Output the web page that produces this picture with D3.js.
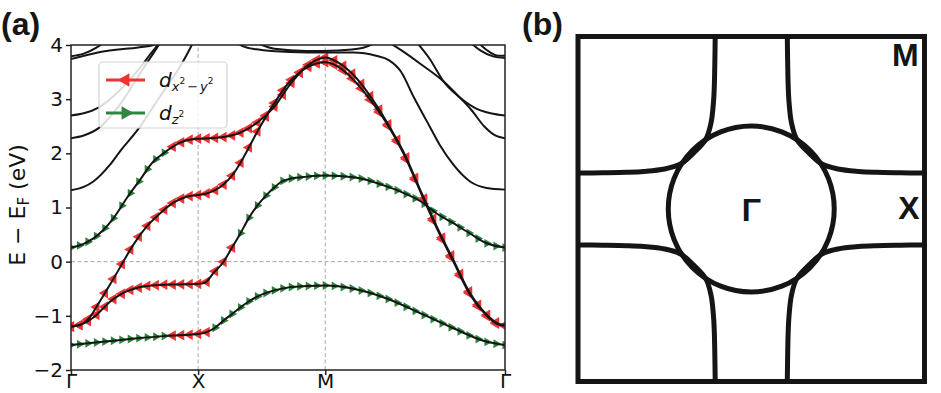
<!DOCTYPE html>
<html>
<head>
<meta charset="utf-8">
<script src="https://cdn.jsdelivr.net/npm/d3@7"></script>
<style>
  body { margin: 0; background: #fff; }
  svg { display: block; }
  .tick text { font-family: "DejaVu Sans", sans-serif; font-size: 20px; fill: #111; }
</style>
</head>
<body>
<div class="chart"></div>
<script>
// k-path: Γ=0, X=1, M=2, Γ=2+√2
var kTicks = [0, 1, 2, 2 + Math.SQRT2];
var kLabels = ["Γ", "X", "M", "Γ"];
var yTicks = [-2, -1, 0, 1, 2, 3, 4];

// projected bands [k, E]
var band1 = [[0,-1.54],[0.25,-1.48],[0.5,-1.42],[0.75,-1.37],[1,-1.335],[1.067,-1.30],[1.133,-1.22],[1.198,-1.09],[1.264,-0.97],[1.33,-0.85],[1.395,-0.74],[1.461,-0.65],[1.592,-0.535],[1.723,-0.47],[1.854,-0.45],[2,-0.44],[2.221,-0.50],[2.484,-0.68],[2.746,-0.95],[3.008,-1.23],[3.271,-1.48],[3.414,-1.54]];
var band2 = [[0,-1.2],[0.1,-1.14],[0.176,-1.03],[0.254,-0.86],[0.307,-0.74],[0.372,-0.63],[0.438,-0.55],[0.569,-0.46],[0.70,-0.43],[0.832,-0.42],[1,-0.41],[1.054,-0.39],[1.12,-0.21],[1.198,-0.01],[1.264,0.25],[1.33,0.51],[1.395,0.79],[1.461,1.02],[1.526,1.20],[1.592,1.355],[1.658,1.48],[1.723,1.53],[1.854,1.57],[2,1.59],[2.221,1.56],[2.484,1.39],[2.615,1.27],[2.746,1.12],[2.877,0.89],[3.008,0.71],[3.139,0.52],[3.271,0.34],[3.414,0.26]];
var band3 = [[0,-1.2],[0.08,-1.16],[0.15,-1.02],[0.22,-0.76],[0.30,-0.45],[0.37,-0.17],[0.411,0.0],[0.49,0.31],[0.596,0.65],[0.70,0.89],[0.805,1.09],[0.91,1.2],[1,1.23],[1.067,1.26],[1.133,1.32],[1.198,1.42],[1.277,1.62],[1.356,1.92],[1.461,2.38],[1.592,2.90],[1.723,3.33],[1.854,3.58],[2,3.68],[2.1,3.6],[2.221,3.36],[2.35,3.0],[2.484,2.55],[2.615,2.0],[2.76,1.23],[2.877,0.62],[3.008,0.0],[3.139,-0.61],[3.271,-1.0],[3.349,-1.15],[3.414,-1.19]];
var band4 = [[0,0.26],[0.09,0.32],[0.176,0.43],[0.254,0.585],[0.333,0.80],[0.438,1.17],[0.543,1.51],[0.648,1.85],[0.70,1.95],[0.805,2.13],[0.91,2.24],[1,2.27],[1.1,2.28],[1.198,2.30],[1.33,2.38],[1.461,2.56],[1.592,2.84],[1.723,3.27],[1.854,3.61],[1.96,3.75],[2,3.77],[2.1,3.68],[2.221,3.45],[2.35,3.07],[2.484,2.58],[2.615,2.03],[2.76,1.26],[2.877,0.65],[3.008,0.03],[3.139,-0.58],[3.271,-0.98],[3.349,-1.13],[3.414,-1.17]];

// which orbital the markers show along each projected band: [kFrom, kTo, orbital]
var orb1 = [[0,0.78,"z2"],[0.78,1.12,"x2"],[1.12,3.5,"z2"]];
var orb2 = [[0,1.3,"x2"],[1.3,3.5,"z2"]];
var orb3 = [[0,3.5,"x2"]];
var orb4 = [[0,0.75,"z2"],[0.75,3.5,"x2"]];

// bands without weight (black only)
var bandC1 = [[0,1.32],[0.1,1.38],[0.176,1.48],[0.307,1.79],[0.39,2.05],[0.53,2.45],[0.7,3.05],[0.88,3.69],[0.95,4.0],[0.98,4.15]];
var bandC2 = [[0,2.28],[0.1,2.33],[0.22,2.47],[0.4,2.95],[0.55,3.5],[0.62,3.75],[0.69,4.0],[0.72,4.12]];
var bandC3 = [[0,2.70],[0.1,2.74],[0.22,2.85],[0.4,3.2],[0.55,3.6],[0.62,3.82],[0.68,4.0],[0.71,4.12]];
var bandC4 = [[0,3.79],[0.1,3.84],[0.2,3.95],[0.26,4.05]];
var bandC5 = [[0,3.74],[0.23,3.87],[0.54,3.96],[0.65,4.0],[0.7,4.05]];
var bandD1 = [[1.3,4.05],[1.35,3.98],[1.461,3.92],[1.723,3.87],[2,3.86],[2.221,3.86],[2.40,3.8],[2.50,3.72],[2.595,3.51],[2.70,3.02],[2.80,2.59],[2.90,2.16],[3.008,1.79],[3.139,1.48],[3.27,1.36],[3.414,1.33]];
var bandD2 = [[1.45,4.05],[1.6,3.93],[1.85,3.89],[2.1,3.9],[2.3,3.95],[2.4,4.05]];
var bandE1 = [[2.5,4.05],[2.6,3.9],[2.75,3.65],[2.93,3.33],[3.05,3.05],[3.15,2.8],[3.25,2.5],[3.33,2.34],[3.414,2.28]];
var bandE2 = [[2.72,4.05],[2.82,3.75],[2.93,3.33],[3.05,3.05],[3.17,2.85],[3.3,2.74],[3.414,2.70]];
var bandE3 = [[3.14,4.05],[3.22,3.9],[3.32,3.79],[3.414,3.76]];
var bandE4 = [[3.2,4.05],[3.3,3.86],[3.36,3.80],[3.414,3.80]];

// Fermi surface (panel b), k in units of π
var fsCircleR = 0.479;
var fsCorner = [[-0.208,1.0],[-0.210,0.86],[-0.213,0.72],[-0.218,0.62],[-0.232,0.50],[-0.262,0.405],[-0.334,0.324],[-0.405,0.262],[-0.50,0.232],[-0.62,0.218],[-0.72,0.213],[-0.86,0.210],[-1.0,0.208]];
var fsLabels = [{ t: "M", k: [0.89, 0.83] }, { t: "X", k: [0.91, -0.06] }, { t: "Γ", k: [0.0, -0.07] }];

var red = "#f03232", green = "#2e8540";

var svg = d3.select(".chart").append("svg")
  .attr("width", 941)
  .attr("height", 393);

// ---------- panel (a) ----------
var xA = d3.scaleLinear().domain([0, 2 + Math.SQRT2]).range([71, 505]);
var yA = d3.scaleLinear().domain([-2, 4]).range([370, 45]);

svg.append("clipPath").attr("id", "clipA")
  .append("rect").attr("x", 71).attr("y", 45).attr("width", 434).attr("height", 325);

var gA = svg.append("g");

// grid lines
gA.selectAll(".vgrid").data(kTicks.slice(1, 3)).enter().append("line")
  .attr("x1", function (d) { return xA(d); }).attr("x2", function (d) { return xA(d); })
  .attr("y1", yA(-2)).attr("y2", yA(4))
  .attr("stroke", "#a8a8a8").attr("stroke-width", 1).attr("stroke-dasharray", "4,2.5");
gA.append("line")
  .attr("x1", xA(0)).attr("x2", xA(2 + Math.SQRT2))
  .attr("y1", yA(0)).attr("y2", yA(0))
  .attr("stroke", "#a8a8a8").attr("stroke-width", 1).attr("stroke-dasharray", "4,2.5");

var line = d3.line()
  .x(function (d) { return xA(d[0]); })
  .y(function (d) { return yA(d[1]); })
  .curve(d3.curveMonotoneX);

var bandG = gA.append("g").attr("clip-path", "url(#clipA)");
var markG = bandG.append("g");
var lineG = bandG.append("g");

var projected = [[band1, orb1], [band2, orb2], [band3, orb3], [band4, orb4]];
var plain = [bandC1, bandC2, bandC3, bandC4, bandC5, bandD1, bandD2, bandE1, bandE2, bandE3, bandE4];

// k points for markers along the path
var kGrid = d3.range(0, 1, 1 / 15)
  .concat(d3.range(1, 2, 1 / 15))
  .concat(d3.range(0, 21).map(function (i) { return 2 + i * Math.SQRT2 / 20; }));

function yAtX(node, px) {
  var lo = 0, hi = node.getTotalLength();
  for (var i = 0; i < 30; i++) {
    var mid = (lo + hi) / 2;
    if (node.getPointAtLength(mid).x < px) lo = mid; else hi = mid;
  }
  return node.getPointAtLength((lo + hi) / 2).y;
}

var triLeft = d3.symbol().type(d3.symbolTriangle).size(50);
var triRight = d3.symbol().type(d3.symbolTriangle).size(34);

projected.forEach(function (p) {
  var path = lineG.append("path")
    .attr("d", line(p[0]))
    .attr("fill", "none")
    .attr("stroke", "#151515")
    .attr("stroke-width", 2);
  var node = path.node();
  kGrid.forEach(function (k) {
    var seg = p[1].filter(function (s) { return k >= s[0] && k < s[1]; })[0];
    if (!seg) return;
    var px = xA(k), py = yAtX(node, Math.min(Math.max(px, 71.2), 504.8));
    var isX = seg[2] === "x2";
    markG.append("path")
      .attr("d", isX ? triLeft() : triRight())
      .attr("transform", "translate(" + px + "," + py + ") rotate(" + (isX ? -90 : 90) + ")")
      .attr("fill", isX ? red : green);
  });
});

lineG.selectAll(".plain").data(plain).enter().append("path")
  .attr("d", line)
  .attr("fill", "none")
  .attr("stroke", "#151515")
  .attr("stroke-width", 2);

// axes
var yAxis = d3.axisLeft(yA).tickValues(yTicks).tickSize(5).tickPadding(3)
  .tickFormat(function (d) { return d < 0 ? "\u2212" + Math.abs(d) : d; });
var xAxis = d3.axisBottom(xA).tickValues(kTicks).tickSize(5).tickPadding(1)
  .tickFormat(function (d, i) { return kLabels[i]; });

var gy = svg.append("g").attr("transform", "translate(71,0)").call(yAxis);
var gx = svg.append("g").attr("transform", "translate(0,370)").call(xAxis);
gx.selectAll(".tick text").attr("dy", "12px");
[gy, gx].forEach(function (g) {
  g.select(".domain").remove();
  g.selectAll(".tick line").attr("stroke", "#222").attr("stroke-width", 1.5);
});

svg.append("rect")
  .attr("x", 71).attr("y", 45).attr("width", 434).attr("height", 325)
  .attr("fill", "none").attr("stroke", "#222").attr("stroke-width", 1.5);

// y label
var yl = svg.append("text")
  .attr("transform", "translate(25,205) rotate(-90)")
  .attr("text-anchor", "middle")
  .style("font-family", "DejaVu Sans, sans-serif")
  .style("font-size", "22px")
  .attr("fill", "#111");
yl.append("tspan").text("E \u2212 E");
yl.append("tspan").attr("dy", 4).style("font-size", "15px").text("F");
yl.append("tspan").attr("dy", -4).text(" (eV)");

// legend
var leg = svg.append("g");
leg.append("rect")
  .attr("x", 99).attr("y", 62).attr("width", 128).attr("height", 66).attr("rx", 4)
  .attr("fill", "#fff").attr("fill-opacity", 0.85)
  .attr("stroke", "#d4d4d4").attr("stroke-width", 1.2);
var legItems = [{ c: red, dir: -90, y: 80 }, { c: green, dir: 90, y: 113 }];
legItems.forEach(function (it) {
  leg.append("line").attr("x1", 106).attr("x2", 145).attr("y1", it.y).attr("y2", it.y)
    .attr("stroke", it.c).attr("stroke-width", 3.2);
  leg.append("path").attr("d", d3.symbol().type(d3.symbolTriangle).size(80)())
    .attr("transform", "translate(125.5," + it.y + ") rotate(" + it.dir + ")")
    .attr("fill", it.c);
});
var t1 = leg.append("text").attr("x", 159).attr("y", 87)
  .style("font-family", "DejaVu Sans, sans-serif").style("font-size", "20px").style("font-style", "italic").attr("fill", "#111");
t1.append("tspan").text("d");
t1.append("tspan").attr("dy", 4).style("font-size", "13px").text("x");
t1.append("tspan").attr("dy", -7).style("font-size", "9px").style("font-style", "normal").text("2");
t1.append("tspan").attr("dy", 7).attr("dx", 2).style("font-size", "13px").style("font-style", "normal").text("\u2212");
t1.append("tspan").attr("dx", 2).style("font-size", "13px").text("y");
t1.append("tspan").attr("dy", -7).style("font-size", "9px").style("font-style", "normal").text("2");
var t2 = leg.append("text").attr("x", 159).attr("y", 120)
  .style("font-family", "DejaVu Sans, sans-serif").style("font-size", "20px").style("font-style", "italic").attr("fill", "#111");
t2.append("tspan").text("d");
t2.append("tspan").attr("dy", 4).style("font-size", "13px").text("z");
t2.append("tspan").attr("dy", -7).style("font-size", "9px").style("font-style", "normal").text("2");

// ---------- panel (b) ----------
var xB = d3.scaleLinear().domain([-1, 1]).range([578, 924.5]);
var yB = d3.scaleLinear().domain([-1, 1]).range([381.5, 36.5]);
var gB = svg.append("g");

gB.append("rect")
  .attr("x", xB(-1)).attr("y", yB(1))
  .attr("width", xB(1) - xB(-1)).attr("height", yB(-1) - yB(1))
  .attr("fill", "none").attr("stroke", "#151515").attr("stroke-width", 5);

gB.append("circle")
  .attr("cx", xB(0)).attr("cy", yB(0))
  .attr("r", xB(fsCircleR) - xB(0))
  .attr("fill", "none").attr("stroke", "#151515").attr("stroke-width", 5);

var fsLine = d3.line()
  .x(function (d) { return xB(d[0]); })
  .y(function (d) { return yB(d[1]); })
  .curve(d3.curveCatmullRom.alpha(0.5));
[[1, 1], [-1, 1], [1, -1], [-1, -1]].forEach(function (s) {
  gB.append("path")
    .attr("d", fsLine(fsCorner.map(function (p) { return [p[0] * s[0], p[1] * s[1]]; })))
    .attr("fill", "none").attr("stroke", "#151515").attr("stroke-width", 5);
});

gB.selectAll(".fslab").data(fsLabels).enter().append("text")
  .attr("x", function (d) { return xB(d.k[0]); })
  .attr("y", function (d) { return yB(d.k[1]); })
  .attr("text-anchor", "middle")
  .style("font-family", "Liberation Sans, Arial, sans-serif")
  .style("font-weight", "bold")
  .style("font-size", "32px")
  .attr("fill", "#151515")
  .text(function (d) { return d.t; });

// panel letters
[{ t: "(a)", x: 1 }, { t: "(b)", x: 522 }].forEach(function (p) {
  svg.append("text").attr("x", p.x).attr("y", 35)
    .style("font-family", "Liberation Sans, Arial, sans-serif")
    .style("font-weight", "bold").style("font-size", "32px")
    .attr("fill", "#151515").text(p.t);
});
</script>
</body>
</html>
